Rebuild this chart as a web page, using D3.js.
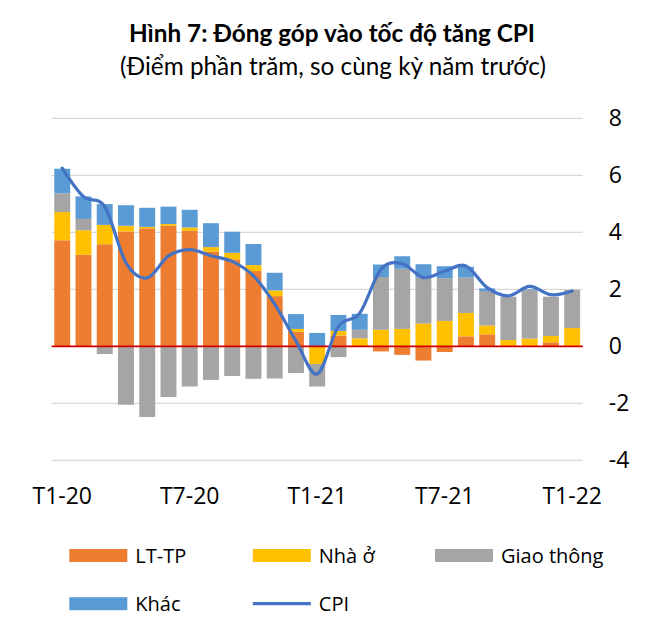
<!DOCTYPE html>
<html>
<head>
<meta charset="utf-8">
<script src="https://cdn.jsdelivr.net/npm/d3@7"></script>
<style>
  body { margin: 0; background: #fff; }
  svg { display: block; }
</style>
</head>
<body>
<svg id="chart" width="662" height="632"></svg>
<script>
const months = ["T1-20","T2-20","T3-20","T4-20","T5-20","T6-20","T7-20","T8-20","T9-20","T10-20","T11-20","T12-20",
                "T1-21","T2-21","T3-21","T4-21","T5-21","T6-21","T7-21","T8-21","T9-21","T10-21","T11-21","T12-21","T1-22"];
const tickMonths = ["T1-20","T7-20","T1-21","T7-21","T1-22"];
const seriesNames = ["LT-TP","Nhà ở","Giao thông","Khác"];
const ltTp     = [3.72, 3.21, 3.58, 4.03, 4.14, 4.23, 4.05, 3.32, 3.05, 2.64, 1.76, 0.51, 0.00, 0.38, 0.00, -0.18, -0.30, -0.50, -0.20, 0.35, 0.42, 0.00, 0.00, 0.14, 0.00];
const nhaO     = [0.99, 0.86, 0.68, 0.20, 0.05, 0.06, 0.12, 0.16, 0.23, 0.21, 0.20, 0.10, -0.62, 0.16, 0.28, 0.58, 0.61, 0.80, 0.89, 0.82, 0.31, 0.22, 0.27, 0.22, 0.64];
const giaoThong= [0.66, 0.40, -0.27, -2.05, -2.48, -1.78, -1.41, -1.18, -1.04, -1.14, -1.13, -0.94, -0.79, -0.38, 0.30, 1.85, 2.11, 1.61, 1.50, 1.24, 1.21, 1.52, 1.70, 1.38, 1.34];
const khac     = [0.86, 0.79, 0.73, 0.72, 0.67, 0.61, 0.62, 0.84, 0.74, 0.74, 0.62, 0.52, 0.47, 0.56, 0.56, 0.44, 0.44, 0.47, 0.42, 0.38, 0.09, 0.00, 0.03, 0.00, 0.00];
const cpi      = [6.25, 5.25, 4.90, 2.93, 2.40, 3.17, 3.39, 3.18, 2.98, 2.47, 1.48, 0.19, -0.97, 0.70, 1.16, 2.70, 2.90, 2.41, 2.64, 2.82, 2.06, 1.77, 2.10, 1.81, 1.94];
const yTicks   = [-4, -2, 0, 2, 4, 6, 8];
const colors   = ["#ED7D31", "#FFC000", "#A5A5A5", "#5B9BD5"];
const cpiColor = "#4472C4";

const svg = d3.select("#chart");
const x0 = 51.6, x1 = 582.8;
const x = d3.scaleBand().domain(months).range([x0, x1]).paddingInner(0.25).paddingOuter(0.125);
const y = d3.scaleLinear().domain([-4, 8]).range([460.3, 118.3]);

// Title
svg.append("text").attr("x", 332).attr("y", 42).attr("text-anchor", "middle")
  .style("font-family", "Lato").style("font-weight", "bold").style("font-size", "24.3px").attr("fill", "#000")
  .text("Hình 7: Đóng góp vào tốc độ tăng CPI");
svg.append("text").attr("x", 333).attr("y", 75).attr("text-anchor", "middle")
  .style("font-family", "Lato").style("font-size", "24.3px").attr("fill", "#000")
  .text("(Điểm phần trăm, so cùng kỳ năm trước)");

// Gridlines
svg.append("g").selectAll("line").data(yTicks.filter(d => d !== 0)).join("line")
  .attr("x1", x0).attr("x2", x1).attr("y1", d => y(d)).attr("y2", d => y(d))
  .attr("stroke", "#D9D9D9").attr("stroke-width", 1.3);

// Stacked bars (diverging)
const table = months.map((m, i) => ({ m, s0: ltTp[i], s1: nhaO[i], s2: giaoThong[i], s3: khac[i] }));
const stack = d3.stack().keys(["s0","s1","s2","s3"]).offset(d3.stackOffsetDiverging);
const layers = stack(table);
svg.append("g").selectAll("g").data(layers).join("g")
  .attr("fill", (d, i) => colors[i])
  .selectAll("rect").data(d => d).join("rect")
  .attr("x", d => x(d.data.m))
  .attr("width", x.bandwidth())
  .attr("y", d => y(Math.max(d[0], d[1])))
  .attr("height", d => Math.abs(y(d[0]) - y(d[1])));

// Zero line
svg.append("line").attr("x1", x0).attr("x2", x1).attr("y1", y(0)).attr("y2", y(0))
  .attr("stroke", "#D00000").attr("stroke-width", 1.8);

// CPI line
const line = d3.line().x((d, i) => x(months[i]) + x.bandwidth() / 2).y(d => y(d)).curve(d3.curveCardinal.tension(0));
svg.append("path").datum(cpi).attr("d", line).attr("fill", "none")
  .attr("stroke", cpiColor).attr("stroke-width", 3.2).attr("stroke-linecap", "round");

// Right axis
const yAxis = d3.axisRight(y).tickValues(yTicks).tickSize(0).tickPadding(26).tickFormat(d => String(d));
const ga = svg.append("g").attr("transform", `translate(${x1},0)`).call(yAxis);
ga.select(".domain").remove();
ga.selectAll("text").style("font-family", "Open Sans").style("font-size", "23px").attr("fill", "#000");

// Bottom labels
const xAxis = d3.axisBottom(x).tickValues(tickMonths).tickSize(0).tickPadding(0);
const gx = svg.append("g").attr("transform", `translate(0,488)`).call(xAxis);
gx.select(".domain").remove();
gx.selectAll("text").attr("dy", "0.71em").style("font-family", "Open Sans").style("font-size", "23px").attr("fill", "#000");

// Legend
const legendPos = [[69.3, 555.5], [252.8, 555.5], [435, 555.5], [69.3, 603.7]];
const lg = svg.append("g");
seriesNames.forEach((name, i) => {
  const [lx, ly] = legendPos[i];
  lg.append("rect").attr("x", lx).attr("y", ly - 6.5).attr("width", 58).attr("height", 13).attr("fill", colors[i]);
  lg.append("text").attr("x", lx + 66).attr("y", ly).attr("dy", "0.35em")
    .style("font-family", "Open Sans").style("font-size", "20px").attr("fill", "#000").text(name);
});
lg.append("line").attr("x1", 252.8).attr("x2", 310.8).attr("y1", 603.7).attr("y2", 603.7)
  .attr("stroke", cpiColor).attr("stroke-width", 3.2);
lg.append("text").attr("x", 252.8 + 66).attr("y", 603.7).attr("dy", "0.35em")
  .style("font-family", "Open Sans").style("font-size", "20px").attr("fill", "#000").text("CPI");
</script>
</body>
</html>
